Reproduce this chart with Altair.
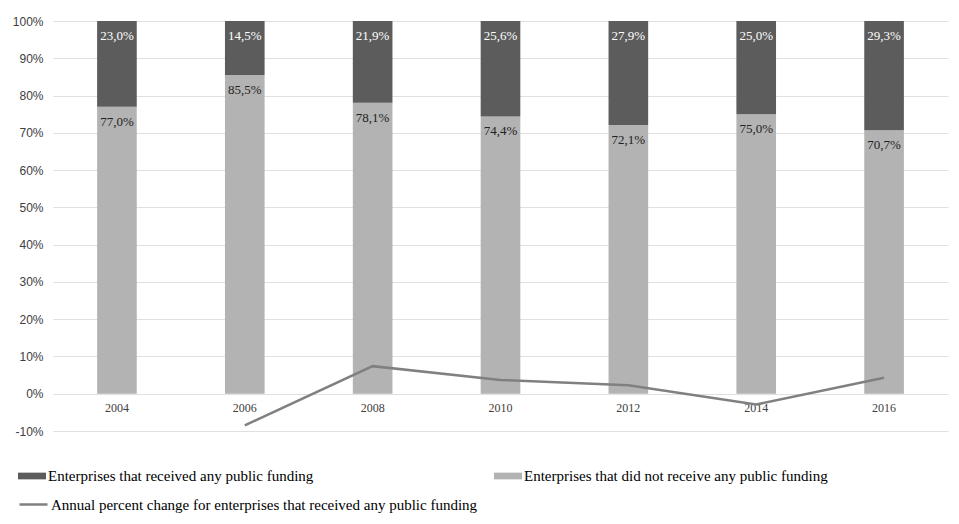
import altair as alt
import pandas as pd

years = ["2004", "2006", "2008", "2010", "2012", "2014", "2016"]
received = [23.0, 14.5, 21.9, 25.6, 27.9, 25.0, 29.3]
not_received = [77.0, 85.5, 78.1, 74.4, 72.1, 75.0, 70.7]
annual_change = [None, -8.5, 7.4, 3.7, 2.3, -2.9, 4.3]
y_ticks = [-10, 0, 10, 20, 30, 40, 50, 60, 70, 80, 90, 100]

S_REC = "Enterprises that received any public funding"
S_NOT = "Enterprises that did not receive any public funding"
S_LINE = "Annual percent change for enterprises that received any public funding"

rows = []
for y, r, n in zip(years, received, not_received):
    rows.append({"year": y, "series": S_NOT, "value": n, "ord": 0})
    rows.append({"year": y, "series": S_REC, "value": r, "ord": 1})
bars_df = pd.DataFrame(rows)

line_df = pd.DataFrame({"year": years, "change": annual_change, "label": S_LINE}).dropna()

x_scale = alt.Scale(domain=years, paddingInner=0.69, paddingOuter=0.345)
y_scale = alt.Scale(domain=[-10, 100], nice=False)

x_axis = alt.Axis(title=None, labelAngle=0, offset=-37.3, domain=False, ticks=False,
                  labelFont="Liberation Serif", labelFontSize=12, labelColor="#404040",
                  labelPadding=9)
y_axis = alt.Axis(title=None, values=y_ticks,
                  labelExpr="datum.value + '%'", domain=False, ticks=False,
                  labelOverlap=False, labelBound=False, labelFlush=False,
                  labelFont="Liberation Sans", labelFontSize=12, labelColor="#404040",
                  labelPadding=10, gridColor="#e0e0e0", gridWidth=1.2)

bars = alt.Chart(bars_df).mark_bar().encode(
    x=alt.X("year:N", scale=x_scale, sort=years, axis=x_axis),
    y=alt.Y("value:Q", stack="zero", scale=y_scale, axis=y_axis),
    color=alt.Color("series:N",
                    scale=alt.Scale(domain=[S_REC, S_NOT], range=["#5c5c5c", "#b3b3b3"]),
                    legend=alt.Legend(title=None, orient="none", legendX=-35, legendY=441,
                                      columns=2, direction="horizontal", columnPadding=180,
                                      symbolType="M-1,-0.24L1,-0.24L1,0.24L-1,0.24Z",
                                      symbolSize=784, symbolStrokeWidth=0, labelOffset=2,
                                      labelFont="Liberation Serif", labelFontSize=15,
                                      labelColor="#000000", padding=0, labelLimit=400)),
    order=alt.Order("ord:Q"),
)

labels = alt.Chart(bars_df).transform_calculate(
    top=f"datum.series == '{S_REC}' ? 100 : datum.value",
    txt="replace(format(datum.value, '.1f'), '.', ',') + '%'",
).mark_text(font="Liberation Serif", fontSize=13, baseline="middle", dy=15).encode(
    x=alt.X("year:N", scale=x_scale, sort=years, bandPosition=0.5, axis=x_axis),
    y=alt.Y("top:Q", scale=y_scale, axis=y_axis),
    text="txt:N",
    color=alt.condition(f"datum.series == '{S_REC}'", alt.value("#ffffff"), alt.value("#222222")),
)

line = alt.Chart(line_df).mark_line(strokeWidth=2.5).encode(
    x=alt.X("year:N", scale=x_scale, sort=years, bandPosition=0.5, axis=x_axis),
    y=alt.Y("change:Q", scale=y_scale, axis=y_axis),
    stroke=alt.Stroke("label:N", scale=alt.Scale(range=["#808080"]),
                      legend=alt.Legend(title=None, orient="none", legendX=-35, legendY=468,
                                        symbolType="stroke", symbolSize=784, symbolStrokeWidth=2.5,
                                        labelOffset=2, labelFont="Liberation Serif",
                                        labelFontSize=15, labelColor="#000000", padding=0,
                                        labelLimit=600)),
)

chart = alt.layer(bars, labels, line).resolve_scale(color="independent").properties(
    width=895, height=410,
    autosize=alt.AutoSizeParams(type="none"),
    padding={"left": 53, "top": 21, "right": 11, "bottom": 93},
    background="#ffffff",
).configure_view(stroke=None)

chart.save("out.html", embed_options={"renderer": "svg", "actions": False})
